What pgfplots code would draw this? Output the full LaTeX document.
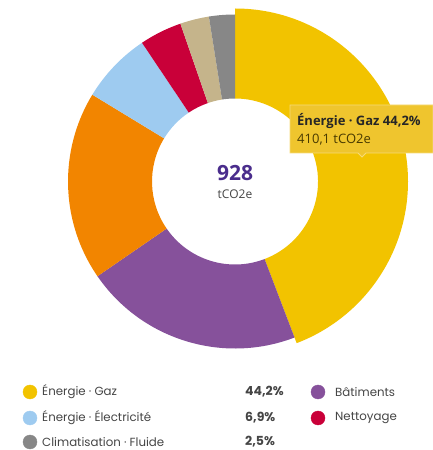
\documentclass[border=0pt]{standalone}
\usepackage{fontspec}
\usepackage{pgfplots}
\usepackage{pgfplotstable}
\pgfplotsset{compat=1.18}
\newfontfamily\pop{Poppins}
\newfontfamily\ui{Open Sans}
\definecolor{cGaz}{HTML}{F2C300}
\definecolor{cBat}{HTML}{86519B}
\definecolor{cOra}{HTML}{F28500}
\definecolor{cEle}{HTML}{9ECBF0}
\definecolor{cNet}{HTML}{C90039}
\definecolor{cTan}{HTML}{C5B48B}
\definecolor{cCli}{HTML}{878787}
\definecolor{cNum}{HTML}{4A2D8C}
\definecolor{cTip}{HTML}{EFC52E}
\definecolor{cTipB}{HTML}{F6DA78}
\definecolor{cTxt}{HTML}{454545}
\pgfplotstableread{
label pct col R
Gaz 44.2 cGaz 173
Bat 21.2 cBat 167
Ora 18.3 cOra 167
Ele 6.9 cEle 167
Net 4.1 cNet 167
Tan 2.8 cTan 167
Cli 2.5 cCli 167
}\slices
\begin{document}
\begin{tikzpicture}
\begin{axis}[hide axis, x=1pt, y=1pt, xmin=0, xmax=432, ymin=0, ymax=450,
  clip=false, scale only axis]
\def\cx{235}\def\cy{268.5}\def\rin{83}
\gdef\astart{90}
\pgfplotsforeachungrouped \i in {0,...,6}{%
  \pgfplotstablegetelem{\i}{pct}\of\slices \let\p\pgfplotsretval
  \pgfplotstablegetelem{\i}{col}\of\slices \let\c\pgfplotsretval
  \pgfplotstablegetelem{\i}{R}\of\slices \let\R\pgfplotsretval
  \pgfmathsetmacro\aend{\astart-\p*3.6}%
  \pgfmathsetmacro\xa{\cx+\R*cos(\astart)}%
  \pgfmathsetmacro\ya{\cy+\R*sin(\astart)}%
  \pgfmathsetmacro\xb{\cx+\rin*cos(\aend)}%
  \pgfmathsetmacro\yb{\cy+\rin*sin(\aend)}%
  \edef\temp{\noexpand\fill[fill=\c] (axis cs:\xa,\ya) arc[start angle=\astart, end angle=\aend, radius=\R pt] -- (axis cs:\xb,\yb) arc[start angle=\aend, end angle=\astart, radius=\rin pt] -- cycle;}%
  \temp
  \global\let\astart\aend
}
% centre
\node[font=\ui\bfseries\fontsize{21}{24}\selectfont, text=cNum] at (axis cs:235,277) {928};
\node[font=\ui\fontsize{12}{14}\selectfont, text=cTxt] at (axis cs:235,256) {tCO2e};
% tooltip
\fill[cTip, draw=cTipB, line width=0.8pt] (axis cs:290,345) -- (axis cs:433,345) -- (axis cs:433,297) -- (axis cs:366,297) -- (axis cs:362,293) -- (axis cs:358,297) -- (axis cs:290,297) -- cycle;
\node[anchor=west, inner sep=0pt, font=\ui\bfseries\fontsize{13}{15}\selectfont, text=black!85] at (axis cs:297,329) {Énergie · Gaz 44,2\%};
\node[anchor=west, inner sep=0pt, font=\ui\fontsize{13}{15}\selectfont, text=black!70!cGaz] at (axis cs:297,310) {410,1 tCO2e};
% legend markers
\addplot[only marks, mark=*, mark size=7pt, color=cGaz] coordinates {(30,58)};
\addplot[only marks, mark=*, mark size=7pt, color=cEle] coordinates {(30,32)};
\addplot[only marks, mark=*, mark size=7pt, color=cCli] coordinates {(30,8)};
\addplot[only marks, mark=*, mark size=7pt, color=cBat] coordinates {(318,58)};
\addplot[only marks, mark=*, mark size=7pt, color=cNet] coordinates {(318,32)};
\tikzset{lg/.style={anchor=west, inner sep=0pt, font=\pop\fontsize{11.8}{14}\selectfont, text=cTxt}}
\tikzset{lp/.style={anchor=west, inner sep=0pt, font=\pop\bfseries\fontsize{12.5}{14}\selectfont, text=cTxt}}
\node[lg] at (axis cs:42,58) {Énergie · Gaz};
\node[lg] at (axis cs:42,32) {Énergie · Électricité};
\node[lg] at (axis cs:42,8) {Climatisation · Fluide};
\node[lp] at (axis cs:245,58) {44,2\%};
\node[lp] at (axis cs:245,32) {6,9\%};
\node[lp] at (axis cs:245,8) {2,5\%};
\node[lg] at (axis cs:335,58) {Bâtiments};
\node[lg] at (axis cs:335,32) {Nettoyage};
\end{axis}
\pgfresetboundingbox
\path (current axis.south west) rectangle (current axis.north east);
\end{tikzpicture}
\end{document}
